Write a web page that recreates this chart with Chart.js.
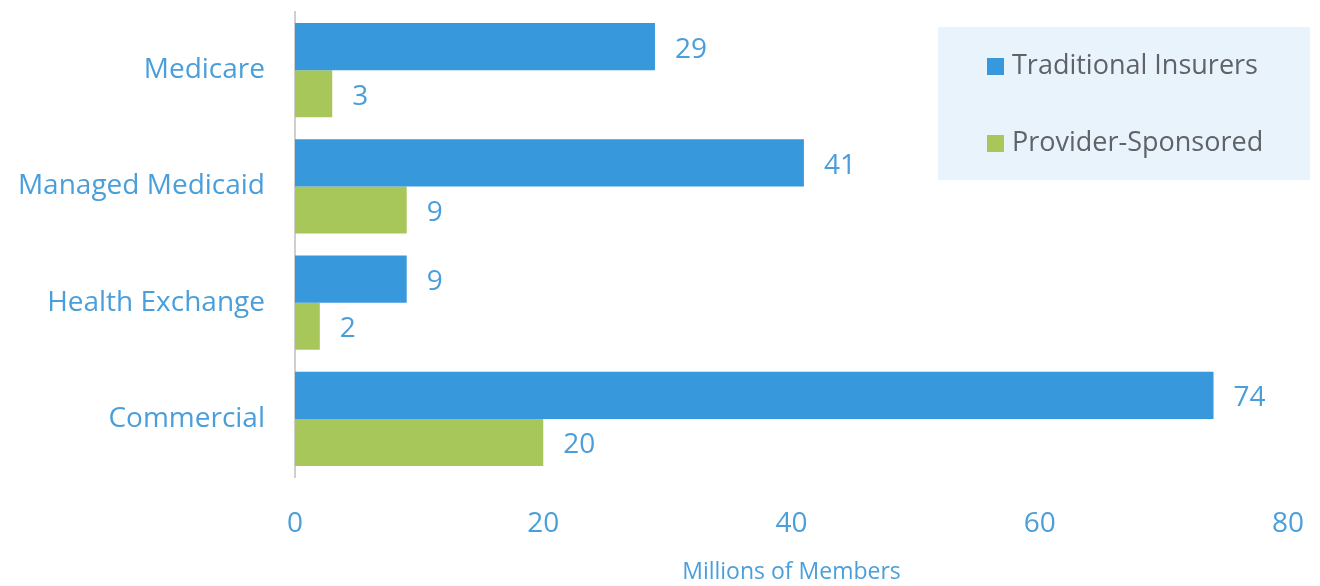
<!DOCTYPE html>
<html>
<head>
<meta charset="utf-8">
<script src="https://cdn.jsdelivr.net/npm/chart.js@4.4.0/dist/chart.umd.min.js"></script>
<style>
  html, body { margin: 0; padding: 0; background: #fff; }
  #wrap { width: 1320px; height: 586px; }
</style>
</head>
<body>
<div id="wrap"><canvas id="chart"></canvas></div>
<script>
const categories = ['Medicare', 'Managed Medicaid', 'Health Exchange', 'Commercial'];
const traditional = [29, 41, 9, 74];
const providerSponsored = [3, 9, 2, 20];
const xTicks = [0, 20, 40, 60, 80];

const BLUE = '#3799dc';
const GREEN = '#a8c75a';
const TEXT_BLUE = '#4a9fda';
const FONT = '"Open Sans", "Noto Sans", sans-serif';

// value labels to the right of each bar
const valueLabels = {
    id: 'valueLabels',
    afterDatasetsDraw(chart) {
        const ctx = chart.ctx;
        ctx.save();
        ctx.font = '28px ' + FONT;
        ctx.fillStyle = TEXT_BLUE;
        ctx.textAlign = 'left';
        ctx.textBaseline = 'middle';
        chart.data.datasets.forEach((ds, i) => {
            chart.getDatasetMeta(i).data.forEach((bar, j) => {
                ctx.fillText(ds.data[j], bar.x + 20, bar.y + 3);
            });
        });
        ctx.restore();
    }
};

// boxed legend at the top right
const boxLegend = {
    id: 'boxLegend',
    afterDraw(chart) {
        const ctx = chart.ctx;
        ctx.save();
        ctx.fillStyle = '#e9f3fb';
        ctx.fillRect(938, 27, 372, 153);
        ctx.font = '27px ' + FONT;
        ctx.textBaseline = 'middle';
        chart.data.datasets.forEach((ds, i) => {
            const y = 66 + i * 77;
            ctx.fillStyle = ds.backgroundColor;
            ctx.fillRect(987, y - 8, 17, 17);
            ctx.fillStyle = '#5f6368';
            ctx.fillText(ds.label, 1012, y);
        });
        ctx.restore();
    }
};

const chart = new Chart(document.getElementById('chart'), {
    type: 'bar',
    data: {
        labels: categories,
        datasets: [
            { label: 'Traditional Insurers', data: traditional, backgroundColor: BLUE },
            { label: 'Provider-Sponsored', data: providerSponsored, backgroundColor: GREEN }
        ]
    },
    options: {
        indexAxis: 'y',
        responsive: true,
        maintainAspectRatio: false,
        animation: false,
        layout: { padding: { top: 12, right: 32, left: 0, bottom: 0 } },
        datasets: { bar: { categoryPercentage: 0.81, barPercentage: 1.0 } },
        plugins: {
            legend: { display: false },
            tooltip: { enabled: false }
        },
        scales: {
            x: {
                min: 0,
                max: 80,
                afterBuildTicks: (scale) => { scale.ticks = xTicks.map(v => ({ value: v })); },
                grid: { display: false, drawTicks: false },
                border: { display: false },
                ticks: { color: TEXT_BLUE, font: { size: 28, family: FONT }, padding: 30 },
                title: {
                    display: true,
                    text: 'Millions of Members',
                    color: TEXT_BLUE,
                    font: { size: 23, family: FONT },
                    padding: { top: 0, bottom: 0 }
                },
                afterFit: (scale) => {
                    scale.height = 109;
                    scale.paddingLeft = 0;
                    scale.paddingRight = 0;
                }
            },
            y: {
                grid: { display: false, drawTicks: false },
                border: { display: true, color: '#cfcfcf', width: 2 },
                ticks: { color: TEXT_BLUE, font: { size: 28, family: FONT }, padding: 30 },
                afterFit: (scale) => {
                    scale.width = 295;
                    scale.paddingTop = 0;
                    scale.paddingBottom = 0;
                }
            }
        }
    },
    plugins: [valueLabels, boxLegend]
});
</script>
</body>
</html>
